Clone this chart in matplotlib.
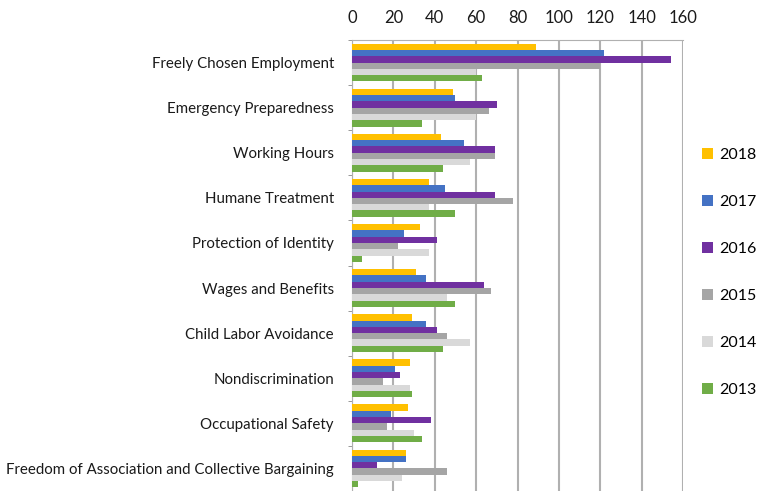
import numpy as np
import matplotlib.pyplot as plt

plt.rcParams['font.family'] = ['Lato', 'DejaVu Sans']

categories = [
    "Freely Chosen Employment",
    "Emergency Preparedness",
    "Working Hours",
    "Humane Treatment",
    "Protection of Identity",
    "Wages and Benefits",
    "Child Labor Avoidance",
    "Nondiscrimination",
    "Occupational Safety",
    "Freedom of Association and Collective Bargaining",
]
years = ["2018", "2017", "2016", "2015", "2014", "2013"]

v2018 = [89, 49, 43, 37, 33, 31, 29, 28, 27, 26]
v2017 = [122, 50, 54, 45, 25, 36, 36, 21, 19, 26]
v2016 = [154, 70, 69, 69, 41, 64, 41, 23, 38, 12]
v2015 = [120, 66, 69, 78, 22, 67, 46, 15, 17, 46]
v2014 = [60, 60, 57, 37, 37, 46, 57, 28, 30, 24]
v2013 = [63, 34, 44, 50, 5, 50, 44, 29, 34, 3]

series = [v2018, v2017, v2016, v2015, v2014, v2013]
colors = ["#FFC000", "#4472C4", "#7030A0", "#A5A5A5", "#D9D9D9", "#70AD47"]

fig = plt.figure(figsize=(7.61, 4.91), dpi=100)
ax = fig.add_axes([352 / 761, 1 - 491 / 491, (683 - 352) / 761, (491 - 40) / 491])

y = np.arange(len(categories))
h = 0.14
for i, (vals, c, yr) in enumerate(zip(series, colors, years)):
    ax.barh(y - 0.42 + h * (i + 0.5), vals, height=h, color=c, label=yr, zorder=3)

ax.set_ylim(len(categories) - 0.5, -0.5)
ax.set_xlim(0, 160)
ax.set_xticks(range(0, 161, 20))
ax.xaxis.tick_top()
ax.tick_params(axis='x', length=0, labelsize=12, pad=10, colors="#1a1a1a")
ax.set_yticks(y)
ax.set_yticklabels(categories, fontsize=10.8, color="#1a1a1a")
ax.tick_params(axis='y', length=0, pad=13)
ax.set_yticks(np.arange(len(categories) + 1) - 0.5, minor=True)
ax.tick_params(axis='y', which='minor', length=3, color="#888888")
ax.grid(axis='x', color="#B0B0B0", linewidth=1.5, zorder=0)

for s in ["right", "bottom"]:
    ax.spines[s].set_visible(False)
ax.spines["top"].set_color("#B0B0B0")
ax.spines["left"].set_color("#B0B0B0")

fig.legend(loc="upper left", bbox_to_anchor=(694 / 761, 1 - 140 / 491),
           frameon=False, fontsize=11.5, labelspacing=2.05, borderpad=0,
           handlelength=0.7, handleheight=0.7, handletextpad=0.35)

fig.savefig("out.png", dpi=100)
